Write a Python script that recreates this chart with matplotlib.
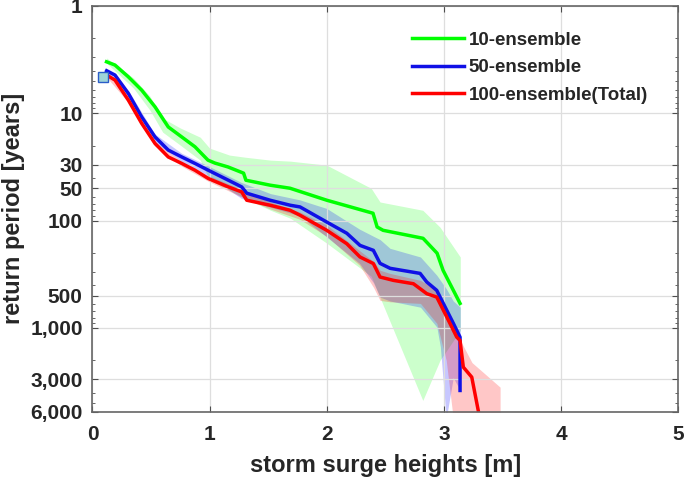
import matplotlib
matplotlib.use('Agg')
import matplotlib.pyplot as plt
from matplotlib.ticker import LogLocator, NullFormatter
import numpy as np

plt.rcParams['font.family'] = ['Liberation Sans', 'DejaVu Sans']
plt.rcParams['font.weight'] = 'bold'

# 10-ensemble line
g_x = [0.12, 0.192, 0.306, 0.420, 0.534, 0.647, 0.762, 0.875, 0.986, 1.046, 1.157,
       1.290, 1.310, 1.516, 1.687, 2.0, 2.395, 2.43, 2.481, 2.822, 2.942, 2.993, 3.138]
g_T = [3.31, 3.55, 4.57, 6.08, 8.70, 13.4, 16.6, 20.5, 27.3, 29.1, 31.6,
       36.1, 42.0, 46.7, 49.9, 64.5, 85.3, 114.5, 123, 146, 201, 290, 590]

# 50-ensemble line
b_x = [0.121, 0.192, 0.306, 0.420, 0.534, 0.647, 0.762, 0.875, 0.989, 1.160, 1.274,
       1.317, 1.516, 1.687, 1.772, 2.0, 2.171, 2.284, 2.398, 2.455, 2.541, 2.797,
       2.854, 2.939, 3.025, 3.081, 3.138, 3.138]
b_T = [4.01, 4.40, 6.52, 10.8, 16.6, 22.0, 25.5, 29.3, 33.9, 42.0, 48.5,
       55.5, 64.5, 71.8, 74.5, 103, 131, 170, 189, 250, 278, 310,
       373, 446, 685, 906, 1216, 3820]

# 100-ensemble (total) line
r_x = [0.121, 0.192, 0.306, 0.420, 0.534, 0.647, 0.762, 0.875, 0.989, 1.160, 1.274,
       1.317, 1.516, 1.687, 1.772, 2.0, 2.171, 2.284, 2.398, 2.455, 2.569, 2.740,
       2.854, 2.939, 3.025, 3.110, 3.138, 3.166, 3.238, 3.295]
r_T = [4.40, 4.90, 7.53, 12.4, 19.1, 25.5, 29.3, 33.9, 40.5, 48.5, 54.0,
       64.5, 71.8, 80, 89, 123, 164, 218, 251, 335, 360, 387,
       479, 515, 791, 1216, 1306, 2317, 2870, 6000]

# uncertainty bands
gb_x = [0.12, 0.35, 0.49, 0.60, 0.75, 0.92, 1.00, 1.17, 1.30, 1.52, 1.69, 2.0,
        2.38, 2.455, 2.82, 2.967, 3.14]
gb_up = [3.05, 4.69, 6.91, 11.1, 13.7, 16.7, 21.1, 24.5, 25.6, 27.3, 27.9, 30.4,
         50, 67, 80, 115, 218]
gb_lo = [3.40, 5.82, 9.33, 15.0, 19.8, 27.3, 42, 52.0, 61.8, 80, 95, 162,
         330, 520, 4730, 2000, 1050]

bb_x = [0.12, 0.31, 0.53, 0.76, 0.99, 1.27, 1.52, 1.77, 2.0, 2.28, 2.40, 2.455,
        2.54, 2.80, 2.94, 2.97, 3.02, 3.08, 3.14]
bb_up = [3.9, 6.2, 15.5, 23.5, 31, 44, 56, 64, 77, 120, 140, 150,
         181, 218, 323, 360, 430, 560, 640]
bb_lo = [4.2, 7.0, 18.5, 28, 38, 62, 75, 90, 142, 250, 380, 515,
         560, 640, 980, 1500, 7000, 2900, 3820]

rb_x = [0.12, 0.31, 0.53, 0.76, 0.99, 1.27, 1.52, 1.77, 2.0, 2.28, 2.40, 2.455,
        2.54, 2.80, 2.94, 3.02, 3.08, 3.14, 3.24, 3.48]
rb_up = [4.2, 7.2, 18.3, 28, 38, 51, 67, 83, 110, 190, 240, 290,
         310, 360, 446, 700, 1000, 1300, 2100, 3557]
rb_lo = [4.6, 8.0, 20, 31, 43, 60, 78, 97, 140, 260, 420, 553,
         570, 590, 906, 2000, 7000, 7000, 7000, 7000]

obs_x = [0.087]
obs_T = [4.57]

yticks = [1, 10, 30, 50, 100, 500, 1000, 3000, 6000]
ylabels = ['1', '10', '30', '50', '100', '500', '1,000', '3,000', '6,000']

fig = plt.figure(figsize=(6.85, 4.83), dpi=100)
ax = fig.add_axes([0.135, 0.148, 0.855, 0.8396])

ax.fill_between(gb_x, gb_up, gb_lo, color=(0, 1, 0), alpha=0.2, lw=0)
ax.fill_between(bb_x, bb_up, bb_lo, color=(0, 0, 1), alpha=0.22, lw=0)
ax.fill_between(rb_x, rb_up, rb_lo, color=(1, 0, 0), alpha=0.22, lw=0)

ax.plot(g_x, g_T, color='#00ff00', lw=2.5, label='10-ensemble')
ax.plot(b_x, b_T, color='#1010e6', lw=2.5, label='50-ensemble')
ax.plot(r_x, r_T, color='#ff0000', lw=2.5, label='100-ensemble(Total)')
ax.plot(obs_x, obs_T, 's', ms=6.5, mfc='#9fd4d8', mec='#2a5cc8', mew=1.0)

ax.set_yscale('log')
ax.set_xlim(0, 5)
ax.set_ylim(6000, 1)
ax.set_yticks(yticks)
ax.set_yticklabels(ylabels)
ax.yaxis.set_minor_locator(LogLocator(base=10, subs=np.arange(2, 10), numticks=20))
ax.yaxis.set_minor_formatter(NullFormatter())
ax.set_xticks([0, 1, 2, 3, 4, 5])

ax.grid(True, which='major', color='0.87', lw=0.9)
ax.tick_params(which='both', direction='in', top=True, right=True,
               colors='0.3', labelcolor='#262626', labelsize=15)
ax.tick_params(which='major', length=4)
ax.tick_params(which='minor', length=2.5)
ax.tick_params(axis='x', pad=10)
ax.tick_params(axis='y', pad=7)
for s in ax.spines.values():
    s.set_color('0.4')
    s.set_linewidth(1.2)

ax.set_xlabel('storm surge heights [m]', fontsize=17, fontweight='bold',
              color='#262626', labelpad=7)
ax.set_ylabel('return period [years]', fontsize=17, fontweight='bold',
              color='#262626', labelpad=4)

leg = ax.legend(loc='upper left', bbox_to_anchor=(0.545, 0.937), frameon=False,
                fontsize=13.5, handlelength=2.8, handletextpad=0.25,
                labelspacing=0.55, borderpad=0, borderaxespad=0)
for t in leg.get_texts():
    t.set_color('#262626')

plt.savefig('out.png', dpi=100)
